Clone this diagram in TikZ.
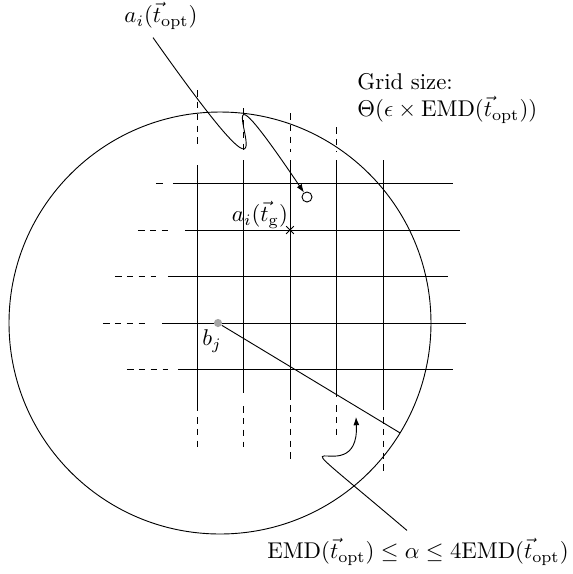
\documentclass[tikz,border=0pt]{standalone}
\usepackage{amsmath}
\usetikzlibrary{arrows.meta, shapes.misc, calc}

\begin{document}
\begin{tikzpicture}[
        x=0.4386pt, y=-0.4386pt,
        griddash/.style={dash pattern=on 2.9pt off 2.3pt},
        pointer/.style={-{Latex[length=3.6pt,width=2.6pt]}},
        spot/.style={circle, inner sep=0pt}
    ]
    \useasboundingbox (0,0) rectangle (573,574);

    % Ball
    \coordinate (ctr) at (220,323);
    \draw (ctr) circle [radius=211];

    % Grid columns: x / top dashes / solid part / bottom dashes
    \foreach \x/\ta/\tb/\sa/\sb/\ba/\bb in {197/90/145/165/411/417/447, 243.5/108/152/160/393/406/447, 290/113/152/160/400/405/463, 336.5/127/152/160/397/405/435}{
        \draw[griddash] (\x,\ta) -- (\x,\tb);
        \draw (\x,\sa) -- (\x,\sb);
        \draw[griddash] (\x,\ba) -- (\x,\bb);
    }
    \draw (383,160) -- (383,410);
    \draw[griddash] (383,417) -- (383,475);

    % Grid rows: y / left dashes / solid part
    \foreach \y/\la/\lb/\sa/\sb in {183.5/156/163/173/453, 230/138/168/185/460, 276.5/115/156/168/448, 323/103/145/162/466, 369.5/127/168/178/453}{
        \draw[griddash] (\la,\y) -- (\lb,\y);
        \draw (\sa,\y) -- (\sb,\y);
    }

    % Points
    \node[spot, draw, minimum size=4.4pt, fill=white] (gopt) at (307,197) {};
    \node[cross out, draw, inner sep=0pt, minimum size=3pt] (gcross) at (290,230) {};
    \node[spot, fill=gray!70, minimum size=3.6pt] (bdot) at (218,323) {};
    \coordinate (rim) at ($(ctr)+(31.4:211)$);
    \coordinate (atip) at (356,417);

    % Labels
    \node (lopt) at (161,16) {$a_i(\vec{t}_{\mathrm{opt}})$};
    \node (lg) at (260,215) {$a_i(\vec{t}_{\mathrm{g}})$};
    \node (lb) at (212,341) {$b_j$};
    \node[align=left, anchor=north west, inner sep=0pt] (lgrid) at (357,73) {Grid size:\\ $\Theta(\epsilon \times \mathrm{EMD}(\vec{t}_{\mathrm{opt}}))$};
    \node (emd) at (418,552) {$\mathrm{EMD}(\vec{t}_{\mathrm{opt}}) \le \alpha \le 4\mathrm{EMD}(\vec{t}_{\mathrm{opt}})$};

    % Pointers
    \draw[pointer] ([shift={(-8,0)}]lopt.south) .. controls +(187,265) and +(-144,-213) .. (gopt);
    \draw[pointer] ([shift={(-11,0)}]emd.north) .. controls +(-157,-133) and +(4,83) .. (atip);
    \draw (bdot) -- (rim);

\end{tikzpicture}
\end{document}
